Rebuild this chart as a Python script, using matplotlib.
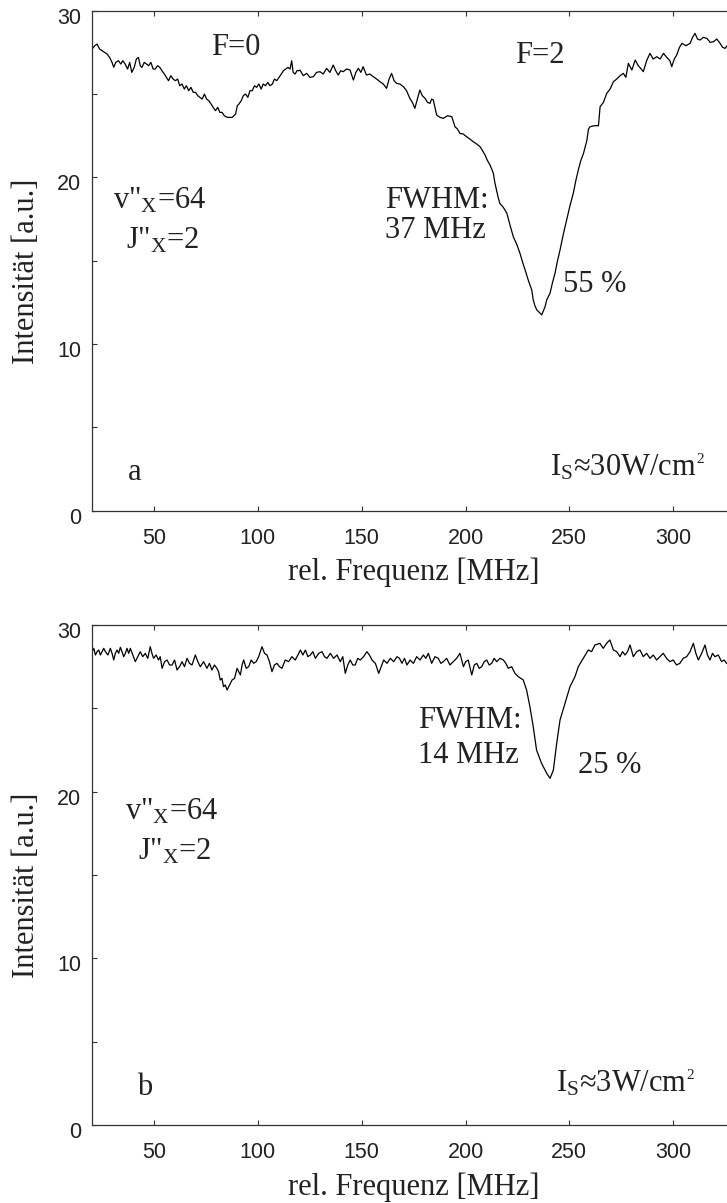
import matplotlib
matplotlib.use('Agg')
import matplotlib.pyplot as plt
import matplotlib.transforms as mtransforms
from matplotlib.ticker import FixedLocator

plt.rcParams['mathtext.fontset'] = 'custom'
plt.rcParams['mathtext.rm'] = 'Liberation Serif'
plt.rcParams['mathtext.it'] = 'Liberation Serif:italic'

# ---- panel a: I_s ~ 30 W/cm^2
freq_a = [
    20.2, 21.5, 22.6, 23.8, 25.0, 26.2, 27.4, 28.6, 29.8, 30.6, 31.6, 32.9, 34.0, 35.0,
    36.1, 37.3, 38.3, 39.3, 40.5, 41.5, 42.5, 43.4, 44.2, 45.3, 46.4, 47.4, 48.5, 49.6,
    50.6, 51.7, 52.8, 53.8, 55.0, 56.0, 57.0, 58.1, 59.2, 60.3, 61.4, 62.4, 63.5, 64.6,
    65.6, 66.7, 67.8, 68.9, 70.0, 71.1, 72.1, 73.2, 74.3, 75.3, 76.4, 77.5, 78.5, 79.6,
    80.7, 81.7, 82.8, 83.8, 85.3, 86.5, 87.7, 88.5, 89.3, 90.1, 90.9, 92.0, 93.0, 94.1,
    95.2, 96.2, 97.3, 98.4, 99.4, 100.5, 101.6, 102.6, 103.7, 104.8, 105.8, 107.0, 108.0,
    109.1, 110.2, 111.3, 112.3, 113.4, 114.5, 115.5, 116.3, 117.0, 118.0, 118.8, 119.8,
    120.3, 121.9, 123.5, 125.1, 126.7, 128.3, 129.9, 131.5, 133.1, 134.7, 136.3, 137.5,
    138.7, 139.9, 141.1, 142.7, 144.4, 146.0, 147.2, 148.4, 149.6, 150.7, 152.3, 153.9,
    155.6, 157.2, 158.8, 160.4, 162.0, 163.2, 164.4, 165.6, 166.8, 168.4, 170.1, 171.6,
    173.2, 174.4, 175.6, 176.8, 178.0, 179.2, 180.5, 181.7, 182.9, 183.7, 184.5, 185.3,
    186.1, 187.7, 189.3, 191.4, 193.4, 194.9, 196.1, 197.3, 198.9, 200.5, 202.1, 203.7,
    205.4, 207.0, 208.2, 209.4, 210.6, 211.8, 212.6, 213.4, 214.1, 214.9, 215.7, 216.5,
    218.2, 219.9, 221.5, 223.0, 224.6, 226.2, 227.5, 228.7, 230.3, 231.9, 232.6, 233.4,
    234.3, 235.5, 236.7, 237.5, 238.3, 239.1, 240.7, 241.9, 243.1, 244.3, 245.5, 247.1,
    248.7, 250.3, 251.9, 253.1, 254.3, 255.5, 256.8, 258.4, 259.2, 260.0, 262.0, 264.0,
    264.8, 266.4, 268.0, 269.6, 271.2, 272.8, 274.4, 276.0, 277.2, 278.4, 280.1, 281.7,
    283.2, 284.6, 285.6, 287.2, 288.8, 290.4, 292.1, 293.7, 295.3, 296.9, 298.4, 299.3,
    300.5, 301.7, 303.0, 304.2, 306.1, 308.1, 309.3, 310.5, 311.7, 312.9, 314.5, 316.2,
    317.8, 319.4, 321.0, 322.6, 323.8, 325.0, 326.0,
]
int_a = [
    27.7, 27.9, 28.0, 27.7, 27.6, 27.5, 27.4, 27.2, 26.9, 26.6, 26.9, 27.0, 26.8, 27.0,
    26.8, 26.5, 26.9, 26.3, 26.6, 27.1, 27.2, 26.7, 26.6, 26.9, 26.8, 26.7, 26.9, 26.5,
    26.5, 26.7, 26.6, 26.4, 26.2, 26.0, 25.8, 26.1, 25.9, 25.8, 25.9, 25.5, 25.6, 25.3,
    25.5, 25.2, 25.4, 25.1, 25.1, 24.9, 24.8, 24.7, 25.0, 24.7, 24.6, 24.4, 24.2, 24.0,
    24.2, 23.9, 23.9, 23.7, 23.6, 23.6, 23.6, 23.7, 23.8, 24.3, 24.4, 24.6, 24.9, 25.0,
    24.8, 25.2, 25.2, 25.5, 25.4, 25.6, 25.3, 25.6, 25.5, 25.7, 25.5, 25.6, 25.9,
    25.8, 26.0, 26.2, 26.4, 26.5, 26.6, 26.5, 27.0, 26.3, 26.2, 26.4, 26.4,
    26.44, 26.1, 26.24, 26.0, 26.04, 26.3, 26.34, 26.2, 26.54, 26.3, 26.74, 26.4,
    26.14, 26.4, 26.34, 26.5, 26.44, 25.84, 26.3, 26.54, 26.3, 26.64, 26.14, 26.2,
    26.04, 25.9, 25.74, 25.6, 25.34, 25.9, 26.24, 25.8, 25.64, 25.6, 25.44, 25.2,
    24.74, 24.5, 24.14, 24.7, 25.24, 24.9, 24.74, 24.5, 24.44, 24.7, 24.64, 24.2,
    23.74, 23.6, 23.54, 23.7, 23.64, 23.04, 22.9, 22.64, 22.6, 22.44, 22.3, 22.14,
    22.0, 21.84, 21.6, 21.34, 21.0, 20.74, 20.5, 20.24, 19.7, 19.24, 18.8, 18.44,
    18.2, 17.85, 17.1, 16.44, 16.0, 15.45, 14.9, 14.44, 13.8, 13.24, 12.65, 12.3,
    12.05, 11.9, 11.75, 12.0, 12.24, 12.65, 13.05, 13.7, 14.25, 15.0, 15.64, 16.6,
    17.44, 18.3, 19.05, 19.8, 20.44, 21.0, 21.44, 22.2, 22.9, 23.04, 23.1, 23.1,
    24.24, 24.5, 25.04, 25.3, 25.74, 25.9, 26.1, 26.24, 26.0, 26.84, 26.44, 27.04,
    26.7, 26.5, 26.34, 27.0, 27.44, 27.1, 27.24, 27.1, 27.44, 27.2, 27.0, 26.64,
    27.1, 27.34, 27.8, 28.04, 27.9, 28.04, 28.4, 28.64, 28.3, 28.24, 28.4, 28.34,
    28.1, 28.14, 28.3, 28.04, 27.8, 27.74, 27.9,
]

# ---- panel b: I_s ~ 3 W/cm^2
freq_b = [
    20.2, 21.0, 21.8, 22.6, 23.4, 24.2, 25.0, 25.8, 26.6, 27.8, 29.0, 29.8, 30.6, 31.4,
    32.2, 33.0, 33.8, 34.6, 35.4, 36.2, 37.0, 37.8, 38.6, 39.8, 41.0, 42.2, 43.4, 44.6,
    45.8, 47.0, 48.2, 49.0, 49.8, 51.0, 52.2, 53.0, 53.9, 55.1, 56.3, 57.5, 58.7, 59.9,
    61.1, 62.3, 63.5, 64.7, 65.9, 67.1, 68.3, 69.1, 69.9, 71.1, 72.3, 73.9, 75.5, 76.7,
    77.9, 79.1, 80.3, 81.1, 81.9, 82.7, 83.5, 84.3, 85.2, 86.4, 87.6, 88.8, 90.0, 90.8,
    91.6, 92.4, 93.2, 94.4, 95.6, 96.8, 98.0, 99.2, 100.4, 101.2, 102.0, 103.2, 104.4,
    105.6, 106.8, 108.0, 109.2, 110.4, 111.6, 113.2, 114.8, 116.4, 118.0, 119.3, 120.5,
    121.7, 122.9, 124.1, 125.3, 126.5, 127.7, 129.3, 130.9, 132.1, 133.3, 134.9, 136.5,
    138.1, 139.7, 140.9, 142.1, 143.3, 144.5, 145.7, 146.9, 148.1, 149.3, 150.9, 152.5,
    153.7, 155.0, 156.6, 158.2, 159.4, 160.6, 162.2, 163.8, 165.4, 167.0, 168.2, 169.4,
    170.6, 171.8, 173.3, 174.9, 176.5, 178.1, 179.7, 180.9, 182.1, 183.7, 185.3, 186.9,
    188.1, 189.3, 190.9, 192.5, 194.1, 195.7, 197.3, 199.0, 200.1, 201.3, 203.0, 204.2,
    205.4, 206.6, 207.8, 209.0, 210.2, 211.4, 212.6, 213.8, 215.0, 216.6, 218.2, 219.4,
    220.6, 222.2, 223.8, 225.4, 227.8, 229.4, 231.0, 232.6, 234.2, 236.6, 239.1, 240.7,
    242.3, 243.9, 245.5, 247.9, 250.3, 252.7, 254.3, 256.7, 259.1, 260.7, 262.3, 264.7,
    266.3, 267.9, 269.5, 271.2, 272.8, 274.4, 275.6, 276.8, 278.0, 279.2, 280.8, 282.4,
    284.0, 285.6, 287.2, 288.8, 290.4, 292.0, 293.6, 295.2, 296.8, 298.4, 300.0, 301.6,
    303.2, 304.8, 306.5, 308.1, 309.7, 310.9, 312.1, 313.7, 315.3, 316.5, 317.7, 318.9,
    320.1, 321.7, 323.3, 324.5, 325.7,
]
int_b = [
    28.4, 28.6, 28.2, 28.4, 28.5, 28.2, 28.4, 28.6, 28.4, 28.2, 28.6, 28.3, 27.9, 28.3,
    28.5, 28.3, 28.66, 28.4, 28.1, 28.3, 28.6, 28.3, 28.6, 28.2, 27.8, 28.1, 28.4, 28.1,
    28.3, 28.0, 28.7, 28.3, 28.0, 28.2, 27.9, 28.1, 27.4, 27.8, 27.9, 27.6, 27.6, 27.9,
    27.3, 27.5, 27.8, 27.5, 28.0, 27.7, 27.6, 27.9, 28.2, 27.8, 27.5, 27.8, 27.4, 27.7,
    27.3, 27.6, 27.4, 27.2, 26.7, 26.8, 26.3, 26.4, 26.1, 26.4, 26.7, 26.8, 27.4, 27.2,
    27.0, 27.6, 27.9, 27.4, 27.5, 27.9, 27.7, 27.8, 28.1, 28.4, 28.7, 28.3, 28.2,
    27.8, 27.2, 27.6, 27.7, 27.5, 27.4, 27.9, 27.8, 28.1, 27.9, 28.2, 28.5,
    28.2, 28.5, 28.1, 28.2, 28.4, 28.0, 28.3, 28.4, 28.1, 28.0, 28.3, 28.0,
    28.2, 27.8, 28.1, 27.1, 27.6, 27.9, 27.6, 27.6, 28.0, 27.9, 28.1, 28.4,
    28.2, 27.9, 27.7, 27.1, 27.5, 27.9, 27.7, 28.0, 27.8, 28.1, 28.0, 27.7,
    28.0, 27.6, 27.9, 27.7, 28.1, 27.9, 28.2, 28.0, 28.3, 27.7, 28.1, 28.0,
    27.7, 27.8, 28.0, 27.6, 27.8, 28.0, 28.3, 27.5, 27.8, 27.9, 27.0, 27.6,
    27.7, 27.4, 27.5, 27.8, 27.9, 27.6, 27.7, 28.0, 27.8, 28.0, 27.9, 27.7,
    27.4, 27.5, 27.1, 26.9, 26.7, 26.1, 25.1, 23.9, 22.5, 21.7, 21.1, 20.8,
    21.3, 22.9, 24.3, 25.3, 26.3, 26.9, 27.5, 28.0, 28.5, 28.4, 28.8, 28.9,
    28.6, 28.9, 29.1, 28.5, 28.4, 28.1, 28.4, 28.2, 28.4, 28.8, 28.1, 28.4,
    28.5, 28.1, 28.3, 28.0, 28.2, 27.9, 28.1, 28.3, 28.0, 27.8, 27.9, 27.6,
    27.7, 28.0, 28.1, 28.4, 28.9, 28.3, 27.9, 28.3, 28.8, 28.2, 27.9, 28.3,
    28.1, 28.2, 27.8, 27.9, 27.7,
]

x_ticks = [50, 100, 150, 200, 250, 300]
y_ticks = [0, 10, 20, 30]
y_minor = [5, 15, 25]

serif = 'Liberation Serif'
txt_col = '#222222'


def style_axes(fig, ax, xlabel_y):
    ax.set_xlim(20.15, 325.9)
    ax.set_ylim(0, 30)
    ax.xaxis.set_major_locator(FixedLocator(x_ticks))
    ax.yaxis.set_major_locator(FixedLocator(y_ticks))
    ax.yaxis.set_minor_locator(FixedLocator(y_minor))
    ax.tick_params(which='both', direction='in', length=3.3, width=0.8,
                   top=True, right=False, color='#333333',
                   labelcolor=txt_col, labelsize=15.5)
    ax.tick_params(axis='x', which='minor', top=False, bottom=False)
    ax.tick_params(axis='x', pad=12.5)
    ax.tick_params(axis='y', pad=8.0)
    ax.spines['right'].set_visible(False)
    for s in ['left', 'bottom', 'top']:
        ax.spines[s].set_color('#333333')
        ax.spines[s].set_linewidth(0.9)
    shift = mtransforms.ScaledTranslation(0, -5 / 100, fig.dpi_scale_trans)
    for lab in ax.get_yticklabels():
        lab.set_fontfamily('Liberation Sans')
        lab.set_transform(lab.get_transform() + shift)
    for lab in ax.get_xticklabels():
        lab.set_fontfamily('Liberation Sans')
    ax.set_ylabel('Intensität [a.u.]', fontsize=22, family=serif, color=txt_col)
    ax.yaxis.set_label_coords(-0.08, 0.479)
    ax.set_xlabel('rel. Frequenz [MHz]', fontsize=22, family=serif, color=txt_col,
                  va='baseline')
    ax.xaxis.set_label_coords(0.506, xlabel_y)


def put(ax, x, y, s, ha='left'):
    return ax.text(x, y, s, fontsize=22, family=serif, color=txt_col, ha=ha, va='baseline')


def put_power(ax, x, y, s):
    # small raised "2" after cm, as in the original
    t = put(ax, x, y, s)
    ax.annotate('2', xy=(1.0, 0.8), xycoords=t, fontsize=11, family=serif,
                color=txt_col, ha='left', va='center')


fig = plt.figure(figsize=(7.27, 12.03), dpi=100)
ax_a = fig.add_axes([92 / 727, (1203 - 510.7) / 1203, 635 / 727, 500 / 1203])
ax_b = fig.add_axes([92 / 727, (1203 - 1125) / 1203, 635 / 727, 500 / 1203])

ax_a.plot(freq_a, int_a, color='black', lw=0.9)
ax_b.plot(freq_b, int_b, color='black', lw=0.9)

style_axes(fig, ax_a, -0.139)
style_axes(fig, ax_b, -0.140)

# panel a labels
put(ax_a, 89.5, 27.34, 'F=0', ha='center')
put(ax_a, 235.8, 26.84, 'F=2', ha='center')
put(ax_a, 30.4, 18.15, 'v"$_\\mathrm{X}$=64')
put(ax_a, 36.5, 15.75, 'J"$_\\mathrm{X}$=2')
put(ax_a, 161.2, 18.15, 'FWHM:')
put(ax_a, 161.2, 16.35, '37 MHz')
put(ax_a, 247.1, 13.14, '55 %')
put(ax_a, 37.6, 1.85, 'a')
put_power(ax_a, 240.7, 2.09, 'I$_\\mathrm{S}$≈30W/cm')

# panel b labels
put(ax_b, 36.0, 18.3, 'v"$_\\mathrm{X}$=64')
put(ax_b, 42.3, 15.9, 'J"$_\\mathrm{X}$=2')
put(ax_b, 177.3, 23.8, 'FWHM:')
put(ax_b, 177.3, 21.7, '14 MHz')
put(ax_b, 254.3, 21.1, '25 %')
put(ax_b, 41.8, 1.8, 'b')
put_power(ax_b, 243.5, 2.0, 'I$_\\mathrm{S}$≈3W/cm')

fig.savefig('out.png', dpi=100)
